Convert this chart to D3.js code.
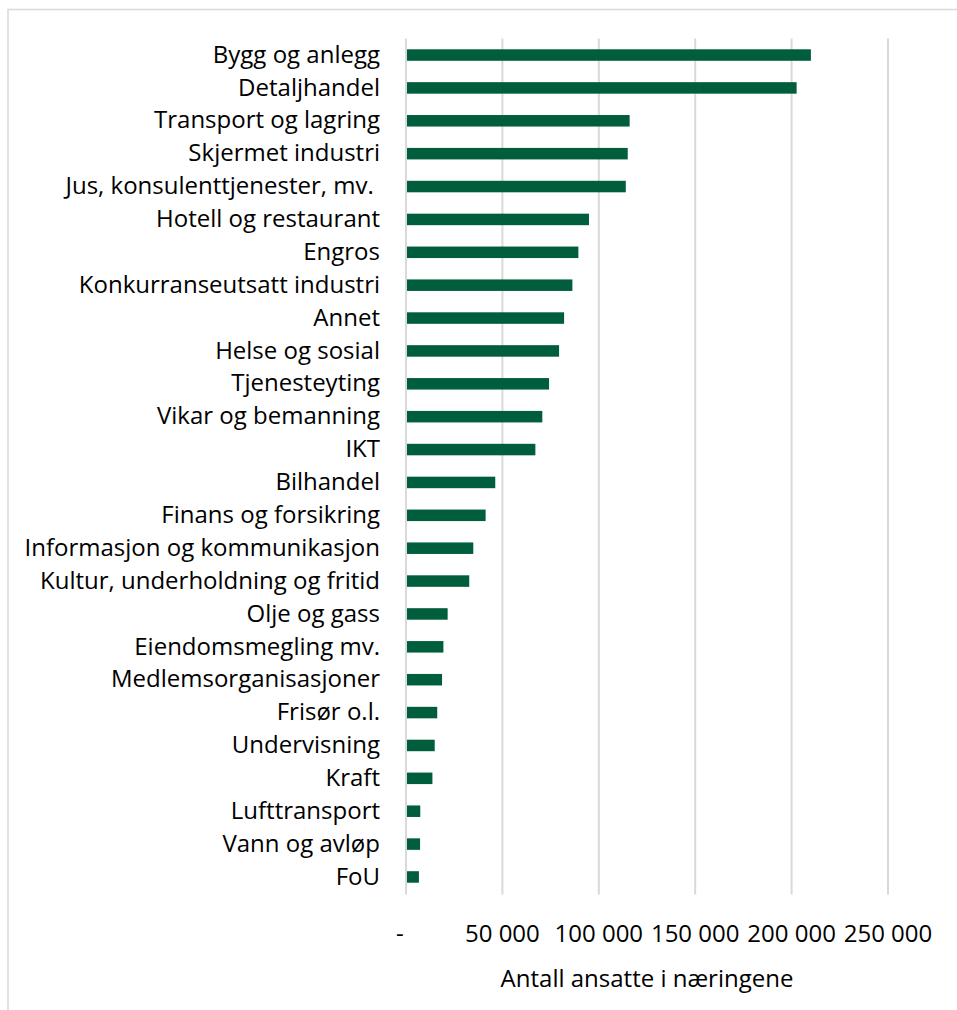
<!DOCTYPE html>
<html>
<head>
<meta charset="utf-8">
<script src="https://cdn.jsdelivr.net/npm/d3@7"></script>
<style>
  html, body { margin: 0; padding: 0; background: #fff; }
  svg { display: block; }
  text { font-family: "Open Sans", "Noto Sans", sans-serif; fill: #000; font-size: 24px; white-space: pre; }
</style>
</head>
<body>
<svg id="chart" width="957" height="1010"></svg>
<script>
// Employees per industry (sorted, largest first)
const categories = [
  "Bygg og anlegg",
  "Detaljhandel",
  "Transport og lagring",
  "Skjermet industri",
  "Jus, konsulenttjenester, mv. ",
  "Hotell og restaurant",
  "Engros",
  "Konkurranseutsatt industri",
  "Annet",
  "Helse og sosial",
  "Tjenesteyting",
  "Vikar og bemanning",
  "IKT",
  "Bilhandel",
  "Finans og forsikring",
  "Informasjon og kommunikasjon",
  "Kultur, underholdning og fritid",
  "Olje og gass",
  "Eiendomsmegling mv.",
  "Medlemsorganisasjoner",
  "Frisør o.l.",
  "Undervisning",
  "Kraft",
  "Lufttransport",
  "Vann og avløp",
  "FoU"
];
const employees = [
  210000, 202600, 116000, 115000, 114000, 94900, 89400, 86300, 82000, 79400,
  74200, 70700, 67100, 46300, 41300, 34900, 32800, 21600, 19400, 18700,
  16200, 14900, 13700, 7400, 7300, 6700
];
const tickValues = [0, 50000, 100000, 150000, 200000, 250000];
// accounting-style number format: zero shown as a padded dash
const tickLabels = ["-  ", "50 000", "100 000", "150 000", "200 000", "250 000"];
const axisTitle = "Antall ansatte i næringene";

const svg = d3.select("#chart");

// light frame around the chart area
svg.append("rect")
  .attr("x", 8).attr("y", 9.5)
  .attr("width", 980).attr("height", 1020)
  .attr("fill", "none")
  .attr("stroke", "#d9d9d9")
  .attr("stroke-width", 1.5);

const plot = { left: 406, right: 888, top: 38.6, bottom: 893.4 };

const x = d3.scaleLinear().domain([0, 250000]).range([plot.left, plot.right]);
const y = d3.scaleBand().domain(categories).range([plot.top, plot.bottom]).paddingInner(0.65).paddingOuter(0.325);

// vertical gridlines
svg.append("g")
  .selectAll("line")
  .data(tickValues)
  .join("line")
  .attr("x1", d => x(d)).attr("x2", d => x(d))
  .attr("y1", plot.top).attr("y2", plot.bottom + 1)
  .attr("stroke", "#d9d9d9")
  .attr("stroke-width", 2);

// bars
svg.append("g")
  .selectAll("rect")
  .data(employees)
  .join("rect")
  .attr("x", x(0) + 1)
  .attr("y", (d, i) => y(categories[i]))
  .attr("width", d => x(d) - x(0) - 1)
  .attr("height", y.bandwidth())
  .attr("fill", "#005e3c");

// category labels
svg.append("g")
  .selectAll("text")
  .data(categories)
  .join("text")
  .attr("x", 380)
  .attr("y", d => y(d) + y.bandwidth() / 2)
  .attr("dy", "0.32em")
  .attr("text-anchor", "end")
  .text(d => d);

// x tick labels
svg.append("g")
  .selectAll("text")
  .data(tickValues)
  .join("text")
  .attr("x", d => x(d))
  .attr("y", 942)
  .attr("text-anchor", "middle")
  .text((d, i) => tickLabels[i]);

// axis title
svg.append("text")
  .attr("x", (plot.left + plot.right) / 2)
  .attr("y", 986.5)
  .attr("text-anchor", "middle")
  .text(axisTitle);
</script>
</body>
</html>
